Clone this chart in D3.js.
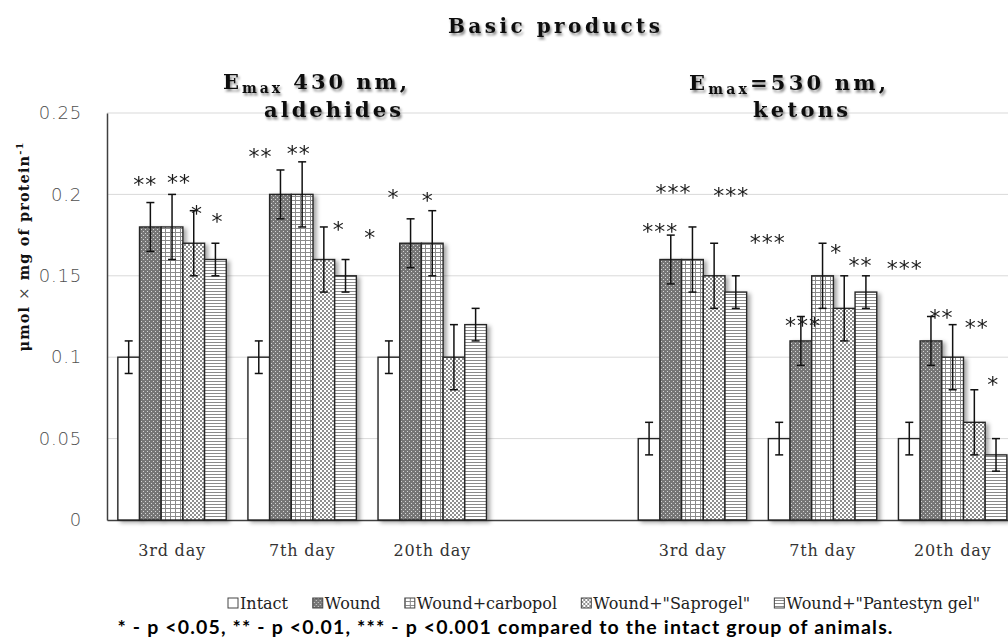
<!DOCTYPE html>
<html>
<head>
<meta charset="utf-8">
<script src="https://cdnjs.cloudflare.com/ajax/libs/d3/7.8.5/d3.min.js"></script>
<style>
  body { margin: 0; background: #fff; }
  svg { display: block; }
</style>
</head>
<body>
<svg id="chart"></svg>
<script>
// *********************************************
// DATA
// *********************************************
var days = ["3rd day", "7th day", "20th day", "", "3rd day", "7th day", "20th day"];
var groups = ["Intact", "Wound", "Wound+carbopol", "Wound+\"Saprogel\"", "Wound+\"Pantestyn gel\""];
var yTicks = [0, 0.05, 0.1, 0.15, 0.2, 0.25];

var intact    = [0.10, 0.10, 0.10, null, 0.05, 0.05, 0.05];
var wound     = [0.18, 0.20, 0.17, null, 0.16, 0.11, 0.11];
var carbopol  = [0.18, 0.20, 0.17, null, 0.16, 0.15, 0.10];
var saprogel  = [0.17, 0.16, 0.10, null, 0.15, 0.13, 0.06];
var pantestyn = [0.16, 0.15, 0.12, null, 0.14, 0.14, 0.04];

var intactErr    = [0.01, 0.01, 0.01, null, 0.01, 0.01, 0.01];
var woundErr     = [0.015, 0.015, 0.015, null, 0.015, 0.015, 0.015];
var carbopolErr  = [0.02, 0.02, 0.02, null, 0.02, 0.02, 0.02];
var saprogelErr  = [0.02, 0.02, 0.02, null, 0.02, 0.02, 0.02];
var pantestynErr = [0.01, 0.01, 0.01, null, 0.01, 0.01, 0.01];

// significance marks, the value they sit at, and their shift in bar widths
var woundStars     = ["**", "**", "*", "", "***", "***", "**"];
var woundStarY     = [0.210, 0.227, 0.202, null, 0.181, 0.123, 0.128];
var woundStarDx    = [-0.28, -0.97, -0.83, null, -0.53, 0.05, 0.44];
var carbopolStars  = ["**", "**", "*", "", "***", "*", "**"];
var carbopolStarY  = [0.211, 0.229, 0.200, null, 0.205, 0.168, 0.122];
var carbopolStarDx = [0.28, -0.2, -0.25, null, -0.92, 0.58, 1.06];
var saprogelStars  = ["*", "*", "", "", "***", "**", "*"];
var saprogelStarY  = [0.192, 0.182, null, null, 0.203, 0.160, 0.087];
var saprogelStarDx = [0.1, 0.64, null, null, 0.74, 0.7, 0.83];
var pantestynStars = ["*", "*", "", "", "***", "***", ""];
var pantestynStarY = [0.187, 0.177, null, null, 0.174, 0.158, null];
var pantestynStarDx= [0.05, 1.1, null, null, 1.43, 1.75, null];

var values = [intact, wound, carbopol, saprogel, pantestyn];
var errors = [intactErr, woundErr, carbopolErr, saprogelErr, pantestynErr];
var stars  = [[], woundStars, carbopolStars, saprogelStars, pantestynStars];
var starY  = [[], woundStarY, carbopolStarY, saprogelStarY, pantestynStarY];
var starDx = [[], woundStarDx, carbopolStarDx, saprogelStarDx, pantestynStarDx];

// *********************************************
// SETUP
// *********************************************
var width = 1008,
    height = 641;

var svg = d3.select("#chart")
    .attr("width", width)
    .attr("height", height);

var defs = svg.append("defs");

var shadow = defs.append("filter").attr("id", "shadow")
    .attr("x", "-20%").attr("y", "-20%").attr("width", "160%").attr("height", "150%");
shadow.append("feDropShadow")
    .attr("dx", 3).attr("dy", 2).attr("stdDeviation", 2)
    .attr("flood-color", "#000").attr("flood-opacity", 0.35);

var tshadow = defs.append("filter").attr("id", "tshadow")
    .attr("x", "-10%").attr("y", "-30%").attr("width", "120%").attr("height", "170%");
tshadow.append("feDropShadow")
    .attr("dx", 1.5).attr("dy", 2.5).attr("stdDeviation", 1.3)
    .attr("flood-color", "#000").attr("flood-opacity", 0.45);

// fill patterns, one per group
function pattern(id, w, h, bg) {
  var p = defs.append("pattern").attr("id", id)
      .attr("patternUnits", "userSpaceOnUse")
      .attr("width", w).attr("height", h);
  p.append("rect").attr("width", w).attr("height", h).attr("fill", bg);
  return p;
}
pattern("p0", 4, 4, "#fff");
var p1 = pattern("p1", 4, 4, "#767676");
p1.append("rect").attr("x", 1).attr("y", 1).attr("width", 1).attr("height", 1).attr("fill", "#d6d6d6");
p1.append("rect").attr("x", 3).attr("y", 3).attr("width", 1).attr("height", 1).attr("fill", "#d6d6d6");
var p2 = pattern("p2", 5, 4, "#fff");
p2.append("rect").attr("x", 0).attr("y", 0).attr("width", 1).attr("height", 4).attr("fill", "#8a8a8a");
p2.append("rect").attr("x", 0).attr("y", 0).attr("width", 5).attr("height", 1).attr("fill", "#8a8a8a");
var p3 = pattern("p3", 4, 4, "#fff");
p3.append("rect").attr("x", 0).attr("y", 0).attr("width", 2).attr("height", 2).attr("fill", "#8f8f8f");
p3.append("rect").attr("x", 2).attr("y", 2).attr("width", 2).attr("height", 2).attr("fill", "#8f8f8f");
var p4 = pattern("p4", 4, 3, "#fff");
p4.append("rect").attr("x", 0).attr("y", 0).attr("width", 4).attr("height", 1).attr("fill", "#8a8a8a");

// scales
var x = d3.scaleBand()
    .domain(d3.range(days.length))
    .range([107, 1017.7])
    .paddingInner(1 / 6)
    .paddingOuter(1 / 12);

var xs = d3.scaleBand()
    .domain(d3.range(groups.length))
    .range([0, x.bandwidth()]);

var y = d3.scaleLinear()
    .domain([0, 0.25])
    .range([520, 113]);

// *********************************************
// GRID + AXES
// *********************************************
svg.append("g").selectAll("line")
    .data(yTicks.filter(d => d > 0))
    .enter().append("line")
    .attr("x1", 107).attr("x2", width)
    .attr("y1", d => y(d)).attr("y2", d => y(d))
    .attr("stroke", "#d9d9d9").attr("stroke-width", 1);

var yAxis = svg.append("g")
    .attr("transform", "translate(107,0)")
    .call(d3.axisLeft(y).tickValues(yTicks).tickSize(0).tickSizeOuter(0)
      .tickPadding(25).tickFormat(d3.format("~g")));
yAxis.select(".domain").attr("stroke", "#404040").attr("stroke-width", 1.5);
yAxis.selectAll("text")
    .attr("font-family", "DejaVu Sans").attr("font-weight", 300)
    .attr("font-size", 18).attr("letter-spacing", 0.8).attr("fill", "#505050");

var xAxis = svg.append("g")
    .attr("transform", "translate(0,520)")
    .call(d3.axisBottom(x).tickSize(0).tickSizeOuter(0)
      .tickPadding(25).tickFormat(i => days[i]));
xAxis.select(".domain").attr("stroke", "#404040").attr("stroke-width", 1.5);
xAxis.selectAll("text")
    .attr("font-family", "DejaVu Serif").attr("font-size", 16)
    .attr("letter-spacing", 0.8).attr("fill", "#333");

// *********************************************
// BARS
// *********************************************
var bars = [];
values.forEach(function(arr, s) {
  arr.forEach(function(v, i) {
    if (v != null) bars.push({s: s, i: i, v: v, e: errors[s][i]});
  });
});

svg.append("g").selectAll("rect")
    .data(bars)
    .enter().append("rect")
    .attr("x", d => x(d.i) + xs(d.s))
    .attr("y", d => y(d.v))
    .attr("width", xs.bandwidth())
    .attr("height", d => y(0) - y(d.v))
    .attr("fill", d => "url(#p" + d.s + ")")
    .attr("stroke", "#262626")
    .attr("stroke-width", 1.4)
    .attr("filter", "url(#shadow)");

// error bars
var eb = svg.append("g").attr("stroke", "#111").attr("stroke-width", 1.5)
    .selectAll("g").data(bars).enter().append("g")
    .attr("transform", d => "translate(" + (x(d.i) + xs(d.s) + xs.bandwidth() / 2) + ",0)");
eb.append("line").attr("y1", d => y(d.v - d.e)).attr("y2", d => y(d.v + d.e));
eb.append("line").attr("x1", -4).attr("x2", 4).attr("y1", d => y(d.v + d.e)).attr("y2", d => y(d.v + d.e));
eb.append("line").attr("x1", -4).attr("x2", 4).attr("y1", d => y(d.v - d.e)).attr("y2", d => y(d.v - d.e));

// significance stars
var marks = [];
stars.forEach(function(arr, s) {
  arr.forEach(function(t, i) {
    if (t) marks.push({s: s, i: i, t: t, v: starY[s][i], dx: starDx[s][i]});
  });
});
svg.append("g")
    .attr("opacity", 0.99)   // grey antialiasing, no colour fringes
  .selectAll("text")
    .data(marks)
    .enter().append("text")
    .attr("x", d => x(d.i) + xs(d.s) + xs.bandwidth() * (0.5 + d.dx) + 1)
    .attr("y", d => y(d.v))
    .attr("dy", "0.62em")
    .attr("text-anchor", "middle")
    .attr("font-family", "DejaVu Sans")
    .attr("font-size", 22)
    .attr("letter-spacing", 1)
    .attr("fill", "#1a1a1a")
    .text(d => d.t);

// *********************************************
// TITLES
// *********************************************
function boldText(xx, yy, len, size) {
  return svg.append("text")
      .attr("x", xx).attr("y", yy)
      .attr("font-family", "DejaVu Serif").attr("font-weight", "bold")
      .attr("font-size", size).attr("fill", "#111")
      .attr("textLength", len).attr("lengthAdjust", "spacing")
      .attr("filter", "url(#tshadow)");
}

boldText(448, 33, 212, 20).text("Basic products");

var t1 = boldText(223, 89, 184, 21);
t1.append("tspan").text("E");
t1.append("tspan").attr("font-size", 14).attr("dy", 4).text("max");
t1.append("tspan").attr("dy", -4).text(" 430 nm,");
boldText(264, 117, 137, 21).text("aldehides");

var t2 = boldText(689, 90, 197, 21);
t2.append("tspan").text("E");
t2.append("tspan").attr("font-size", 14).attr("dy", 4).text("max");
t2.append("tspan").attr("dy", -4).text("=530 nm,");
boldText(753, 117, 95, 21).text("ketons");

// y axis title
var yt = svg.append("text")
    .attr("transform", "translate(29,247) rotate(-90)")
    .attr("text-anchor", "middle")
    .attr("font-family", "DejaVu Serif").attr("font-weight", "bold")
    .attr("font-size", 14.5).attr("fill", "#111")
    .attr("textLength", 209).attr("lengthAdjust", "spacing");
yt.append("tspan").text("μmol ");
yt.append("tspan").attr("font-weight", "normal").attr("fill", "#444").text("×");
yt.append("tspan").text(" mg of protein");
yt.append("tspan").attr("font-size", 10).attr("dy", -6).text("-1");

// *********************************************
// LEGEND
// *********************************************
var legend = svg.append("g");
var items = legend.selectAll("g").data(groups).enter().append("g");
items.append("rect")
    .attr("x", 0).attr("y", -11)
    .attr("width", 10).attr("height", 10)
    .attr("fill", (d, i) => "url(#p" + i + ")")
    .attr("stroke", "#444").attr("stroke-width", 1);
items.append("text")
    .attr("x", 12).attr("y", 0)
    .attr("font-family", "DejaVu Serif").attr("font-size", 16)
    .attr("fill", "#222")
    .text(d => d);

var widths = [];
items.each(function() { widths.push(this.getBBox().width); });
var gap = (980 - 228 - d3.sum(widths)) / (groups.length - 1);
var pos = 228;
items.attr("transform", function(d, i) {
  var t = "translate(" + pos + ",609)";
  pos += widths[i] + gap;
  return t;
});

svg.append("text")
    .attr("x", 505).attr("y", 634)
    .attr("text-anchor", "middle")
    .attr("font-family", "Lato").attr("font-weight", "bold")
    .attr("font-size", 19.5).attr("fill", "#000")
    .attr("textLength", 775).attr("lengthAdjust", "spacing")
    .text("* - p <0.05, ** - p <0.01, *** - p <0.001 compared to the intact group of animals.");
</script>
</body>
</html>
